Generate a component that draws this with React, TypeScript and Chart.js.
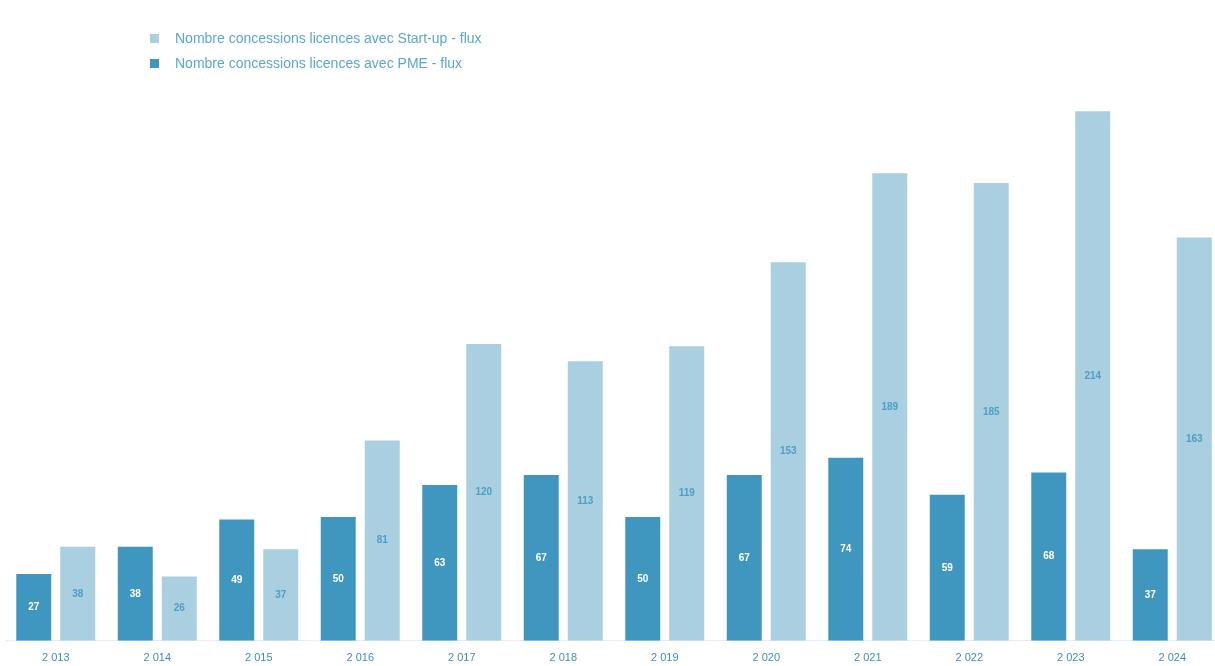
import React, { useEffect, useRef } from "react";
import { Chart, registerables } from "chart.js";

Chart.register(...registerables);

const years = ["2 013", "2 014", "2 015", "2 016", "2 017", "2 018", "2 019", "2 020", "2 021", "2 022", "2 023", "2 024"];
const pmeValues = [27, 38, 49, 50, 63, 67, 50, 67, 74, 59, 68, 37];
const startupValues = [38, 26, 37, 81, 120, 113, 119, 153, 189, 185, 214, 163];
const seriesNames = ["Nombre concessions licences avec PME - flux", "Nombre concessions licences avec Start-up - flux"];

const DARK = "#3f97bf";
const LIGHT = "#a9cfe0";

const labelPlugin = {
  id: "barLabels",
  afterDatasetsDraw(chart: any) {
    const ctx = chart.ctx;
    ctx.save();
    ctx.font = "bold 10px 'Liberation Sans', Arial, sans-serif";
    ctx.textAlign = "center";
    ctx.textBaseline = "middle";
    chart.data.datasets.forEach((ds: any, di: number) => {
      const meta = chart.getDatasetMeta(di);
      meta.data.forEach((el: any, i: number) => {
        const v = ds.data[i];
        ctx.fillStyle = di === 0 ? "#ffffff" : "#4d9fc5";
        ctx.fillText(String(v), el.x, (el.y + el.base) / 2);
      });
    });
    ctx.restore();
  },
};

export default function App() {
  const ref = useRef<HTMLCanvasElement | null>(null);
  useEffect(() => {
    document.body.style.margin = "0";
    document.body.style.overflow = "hidden";
    const chart = new Chart(ref.current as HTMLCanvasElement, {
      type: "bar",
      data: {
        labels: years,
        datasets: [
          { label: seriesNames[0], data: pmeValues, backgroundColor: DARK, categoryPercentage: 0.867, barPercentage: 0.795 },
          { label: seriesNames[1], data: startupValues, backgroundColor: LIGHT, categoryPercentage: 0.867, barPercentage: 0.795 },
        ],
      },
      options: {
        responsive: false,
        animation: false,
        layout: { padding: { top: 47, bottom: 2, left: 0, right: 0 } },
        plugins: { legend: { display: false }, tooltip: { enabled: false }, title: { display: false } },
        scales: {
          x: {
            grid: { display: false },
            border: { display: true, color: "#e4eef3" },
            ticks: { color: "#3f8db3", padding: 3, font: { size: 11, family: "'Liberation Sans', Arial, sans-serif" } },
          },
          y: { display: false, min: 0, max: 240 },
        },
      },
      plugins: [labelPlugin],
    });
    return () => chart.destroy();
  }, []);

  const legendItem = (color: string, text: string, top: number) => (
    <div style={{ position: "absolute", left: 150, top, display: "flex", alignItems: "center", fontFamily: "'Liberation Sans', Arial, sans-serif", fontSize: 14, color: "#5aa8cc", whiteSpace: "nowrap" }}>
      <span style={{ display: "inline-block", width: 9, height: 9, background: color, marginRight: 16 }} />
      <span>{text}</span>
    </div>
  );

  return (
    <div style={{ position: "relative", width: 1215, height: 666, overflow: "hidden", background: "#fff" }}>
      <canvas ref={ref} width={1218} height={670} style={{ position: "absolute", left: 5, top: 0 }} />
      {legendItem(LIGHT, seriesNames[1], 30)}
      {legendItem(DARK, seriesNames[0], 55)}
    </div>
  );
}
